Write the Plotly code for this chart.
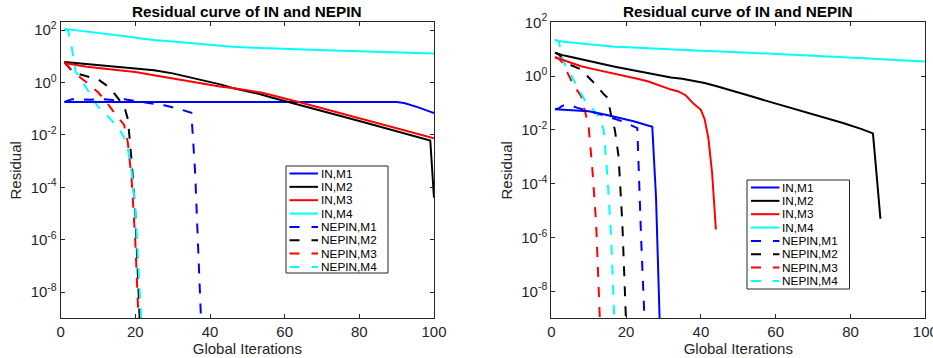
import plotly.graph_objects as go

W, H = 933, 358

# ---------------- data ----------------
series_names = ["IN,M1", "IN,M2", "IN,M3", "IN,M4",
                "NEPIN,M1", "NEPIN,M2", "NEPIN,M3", "NEPIN,M4"]
series_colors = ["#0000FF", "#000000", "#FF0000", "#00FFFF",
                 "#0000FF", "#000000", "#FF0000", "#00FFFF"]
series_dash = ["solid"] * 4 + ["10px,10px"] * 4

x_ticks = [0, 20, 40, 60, 80, 100]
y_tickvals = [1e-8, 1e-6, 1e-4, 1e-2, 1e0, 1e2]
y_ticktext = ["10<sup>-8</sup>", "10<sup>-6</sup>", "10<sup>-4</sup>",
              "10<sup>-2</sup>", "10<sup>0</sup>", "10<sup>2</sup>"]

# ---- left panel ----
L_in_m1_x = [1, 10, 20, 30, 40, 50, 60, 70, 80, 90, 92, 94, 96, 98, 100]
L_in_m1_y = [0.18, 0.18, 0.181, 0.182, 0.182, 0.183, 0.183, 0.183, 0.182, 0.18,
             0.166, 0.138, 0.11, 0.087, 0.068]

L_in_m2_x = [1, 4, 7, 10, 13, 16, 20, 25, 30, 34, 37, 40, 43, 46, 50, 53, 56, 59,
             65, 70, 75, 80, 85, 90, 95, 99, 100]
L_in_m2_y = [6.03, 5.5, 5.25, 4.79, 4.37, 3.98, 3.55, 2.95, 2.24, 1.66, 1.32, 1.07,
             0.832, 0.617, 0.468, 0.372, 0.282, 0.214, 0.126, 0.0813, 0.0525,
             0.0339, 0.0219, 0.0138, 0.00912, 0.00617, 3.98e-5]

L_in_m3_x = [1, 4, 7, 10, 13, 16, 20, 25, 30, 34, 37, 40, 43, 46, 50, 54, 58, 61,
             65, 70, 75, 80, 85, 90, 95, 100]
L_in_m3_y = [5.62, 4.68, 3.98, 3.63, 3.24, 2.95, 2.51, 1.91, 1.45, 1.12, 0.955,
             0.794, 0.692, 0.617, 0.513, 0.407, 0.295, 0.234, 0.162, 0.105,
             0.0676, 0.0437, 0.0282, 0.0182, 0.0117, 0.00741]

L_in_m4_x = [1, 4, 7, 10, 13, 16, 19, 22, 25, 30, 34, 38, 42, 46, 50, 55, 60, 65,
             70, 75, 80, 85, 90, 95, 100]
L_in_m4_y = [112, 100, 89, 77.6, 70.8, 64.6, 55, 46.8, 41.7, 37.2, 33.1, 29.5,
             25.7, 23.4, 21.9, 20.4, 19.5, 18.2, 17.0, 16.2, 15.5, 14.8, 14.1,
             13.5, 12.9]

L_ne_m1_x = [1, 3, 5, 8, 11, 14, 17, 20, 23, 26, 28, 31, 34, 35, 36, 37, 38]
L_ne_m1_y = [0.182, 0.229, 0.234, 0.219, 0.234, 0.214, 0.229, 0.2, 0.174, 0.151,
             0.132, 0.105, 0.0794, 0.0708, 3.98e-4, 1.26e-7, 3.2e-11]

L_ne_m2_x = [1, 2, 3, 4, 6, 8, 10, 12, 14, 16, 17, 18, 19, 20, 21, 22]
L_ne_m2_y = [6.03, 3.98, 2.82, 2.29, 1.86, 1.58, 1.32, 0.832, 0.447, 0.191, 0.126,
             0.0398, 1.0e-3, 1.0e-5, 1.58e-9, 1.0e-12]

L_ne_m3_x = [1, 3, 5, 7, 10, 12, 14, 16, 17, 18, 19, 20, 21]
L_ne_m3_y = [5.62, 2.82, 1.66, 1.0, 0.427, 0.2, 0.0832, 0.0355, 0.024, 5.0e-3,
             2.0e-4, 7.9e-7, 2.5e-10]

L_ne_m4_x = [1, 2, 3, 4, 5, 6, 8, 10, 12, 14, 16, 17, 18, 19, 20, 21, 22]
L_ne_m4_y = [112, 93.3, 20.0, 2.51, 1.66, 1.0, 0.355, 0.117, 0.0631, 0.0316,
             0.0141, 7.94e-3, 2.82e-3, 3.98e-4, 1.58e-5, 5.0e-8, 6.3e-11]

# ---- right panel ----
R_in_m1_x = [1, 5, 10, 14, 18, 22, 27, 28, 29]
R_in_m1_y = [0.0589, 0.055, 0.049, 0.038, 0.0288, 0.0209, 0.0132, 3.16e-5, 6.3e-10]

R_in_m2_x = [1, 3, 5, 8, 11, 14, 17, 20, 23, 26, 29, 32, 35, 38, 41, 44, 48, 53,
             58, 63, 68, 73, 78, 83, 86, 87, 88]
R_in_m2_y = [7.41, 6.03, 5.25, 4.17, 3.39, 2.75, 2.24, 1.86, 1.55, 1.26, 1.07,
             0.891, 0.794, 0.676, 0.55, 0.427, 0.302, 0.186, 0.115, 0.0724,
             0.0457, 0.0288, 0.0182, 0.0107, 7.41e-3, 2.0e-4, 5.0e-6]

R_in_m3_x = [1, 3, 5, 8, 11, 14, 17, 20, 23, 26, 28, 30, 32, 34, 36, 38, 40, 41,
             42, 43, 44]
R_in_m3_y = [5.01, 3.98, 3.16, 2.34, 1.86, 1.51, 1.26, 1.0, 0.794, 0.631, 0.501,
             0.38, 0.316, 0.269, 0.191, 0.0955, 0.0562, 0.0251, 5.0e-3, 2.5e-4,
             2.0e-6]

R_in_m4_x = [1, 2, 4, 8, 12, 17, 22, 26, 30, 35, 40, 47, 55, 60, 67, 75, 85, 92, 100]
R_in_m4_y = [21.9, 20.0, 18.6, 16.6, 14.1, 12.3, 11.5, 10.7, 10.0, 9.33, 8.71,
             8.13, 7.24, 6.76, 6.03, 5.25, 4.47, 3.98, 3.47]

R_ne_m1_x = [1, 2, 3, 5, 7, 11, 15, 19, 23, 24, 25]
R_ne_m1_y = [0.0589, 0.0631, 0.0794, 0.0832, 0.0661, 0.0468, 0.0316, 0.0209,
             0.0117, 1.07e-6, 5.0e-10]

R_ne_m2_x = [1, 2, 3, 4, 5, 7, 8, 10, 12, 14, 15, 16, 17, 18, 19, 20]
R_ne_m2_y = [7.41, 6.31, 4.57, 3.31, 2.63, 2.09, 1.78, 0.891, 0.468, 0.214, 0.158,
             0.0355, 0.01, 1.0e-3, 3.16e-6, 6.3e-10]

R_ne_m3_x = [1, 2, 3, 4, 5, 6, 7, 8, 9, 10, 11, 12, 13]
R_ne_m3_y = [5.01, 4.47, 3.16, 1.58, 0.794, 0.447, 0.282, 0.178, 0.0501, 0.0126,
             3.16e-4, 3.16e-6, 7.9e-10]

R_ne_m4_x = [1, 2, 3, 4, 5, 6, 7, 8, 9, 10, 11, 12, 13, 14, 15, 16, 17]
R_ne_m4_y = [21.9, 20.0, 3.98, 2.24, 1.12, 0.631, 0.355, 0.209, 0.126, 0.0891,
             0.0631, 0.0427, 0.0251, 0.01, 2.0e-4, 1.0e-6, 2.5e-10]

left_series = [(L_in_m1_x, L_in_m1_y), (L_in_m2_x, L_in_m2_y), (L_in_m3_x, L_in_m3_y),
               (L_in_m4_x, L_in_m4_y), (L_ne_m1_x, L_ne_m1_y), (L_ne_m2_x, L_ne_m2_y),
               (L_ne_m3_x, L_ne_m3_y), (L_ne_m4_x, L_ne_m4_y)]
right_series = [(R_in_m1_x, R_in_m1_y), (R_in_m2_x, R_in_m2_y), (R_in_m3_x, R_in_m3_y),
                (R_in_m4_x, R_in_m4_y), (R_ne_m1_x, R_ne_m1_y), (R_ne_m2_x, R_ne_m2_y),
                (R_ne_m3_x, R_ne_m3_y), (R_ne_m4_x, R_ne_m4_y)]

title_text = "Residual curve of IN and NEPIN"
x_title = "Global Iterations"
y_title = "Residual"

# ---------------- figure ----------------
FONT = "Liberation Sans, Arial, Helvetica, sans-serif"
AX = "#262626"

fig = go.Figure()
order = [4, 5, 6, 7, 0, 1, 2, 3]
for i in order:
    for (sx, sy), xa, ya in ((left_series[i], "x", "y"), (right_series[i], "x2", "y2")):
        fig.add_trace(go.Scatter(
            x=sx, y=sy, mode="lines", name=series_names[i], showlegend=False,
            line=dict(color=series_colors[i], width=2, dash=series_dash[i]),
            xaxis=xa, yaxis=ya, hoverinfo="skip"))


def px2x(p):
    return p / W


def px2y(p):
    return 1 - p / H


axis_common = dict(showline=True, linecolor=AX, linewidth=1, mirror="ticks",
                   ticks="inside", ticklen=4, tickcolor=AX, tickwidth=1,
                   showgrid=False, zeroline=False, automargin=False,
                   tickfont=dict(family=FONT, size=15, color=AX),
                   ticklabeloverflow="allow")

xdom_L = [px2x(60.7), px2x(434.0)]
xdom_R = [px2x(551.3), px2x(925.3)]
ydom = [px2y(318.3), px2y(22.3)]

xcfg = dict(axis_common, range=[0, 100], tickvals=x_ticks,
            title=dict(text=x_title, font=dict(family=FONT, size=15, color=AX), standoff=0))
ycfg = dict(axis_common, type="log", tickvals=y_tickvals, ticktext=y_ticktext,
            title=dict(text=y_title, font=dict(family=FONT, size=15, color=AX), standoff=5))

fig.update_layout(
    width=W, height=H, template="none",
    margin=dict(l=0, r=0, t=0, b=0, pad=0),
    paper_bgcolor="white", plot_bgcolor="white",
    showlegend=False,
    font=dict(family=FONT, color=AX),
    xaxis=dict(xcfg, domain=xdom_L, anchor="y"),
    yaxis=dict(ycfg, domain=ydom, anchor="x", range=[-9, 2.3]),
    xaxis2=dict(xcfg, domain=xdom_R, anchor="y2"),
    yaxis2=dict(ycfg, domain=ydom, anchor="x2", range=[-9, 2]),
)

# titles
for dom in (xdom_L, xdom_R):
    fig.add_annotation(x=(dom[0] + dom[1]) / 2, y=px2y(12), xref="paper", yref="paper",
                       text="<b>" + title_text + "</b>", showarrow=False,
                       xanchor="center", yanchor="middle",
                       font=dict(family=FONT, size=15.3, color="black"))

# legends (drawn as boxes with line samples)
legend_specs = [
    dict(box=(286, 166, 388, 273), row0=173.5, dy=13.35, lx=(289.5, 318), tx=319.5),
    dict(box=(747, 180, 849.5, 289), row0=187.5, dy=13.35, lx=(751, 779.5), tx=781),
]
for spec in legend_specs:
    x0, y0, x1, y1 = spec["box"]
    fig.add_shape(type="rect", xref="paper", yref="paper",
                  x0=px2x(x0), x1=px2x(x1), y0=px2y(y1), y1=px2y(y0),
                  line=dict(color=AX, width=1), fillcolor="white", layer="above")
    for k, name in enumerate(series_names):
        yy = px2y(spec["row0"] + spec["dy"] * k)
        fig.add_shape(type="line", xref="paper", yref="paper",
                      x0=px2x(spec["lx"][0]), x1=px2x(spec["lx"][1]), y0=yy, y1=yy,
                      line=dict(color=series_colors[k], width=2,
                                dash="solid" if k < 4 else "10px,12px"),
                      layer="above")
        fig.add_annotation(x=px2x(spec["tx"]), y=yy, xref="paper", yref="paper",
                           text=name, showarrow=False, xanchor="left", yanchor="middle",
                           font=dict(family=FONT, size=11.8, color="black"),
                           borderpad=0)

fig.write_html("out.html",
               config={"displayModeBar": False, "staticPlot": True},
               post_script="document.body.style.margin='0';document.body.style.padding='0';")
